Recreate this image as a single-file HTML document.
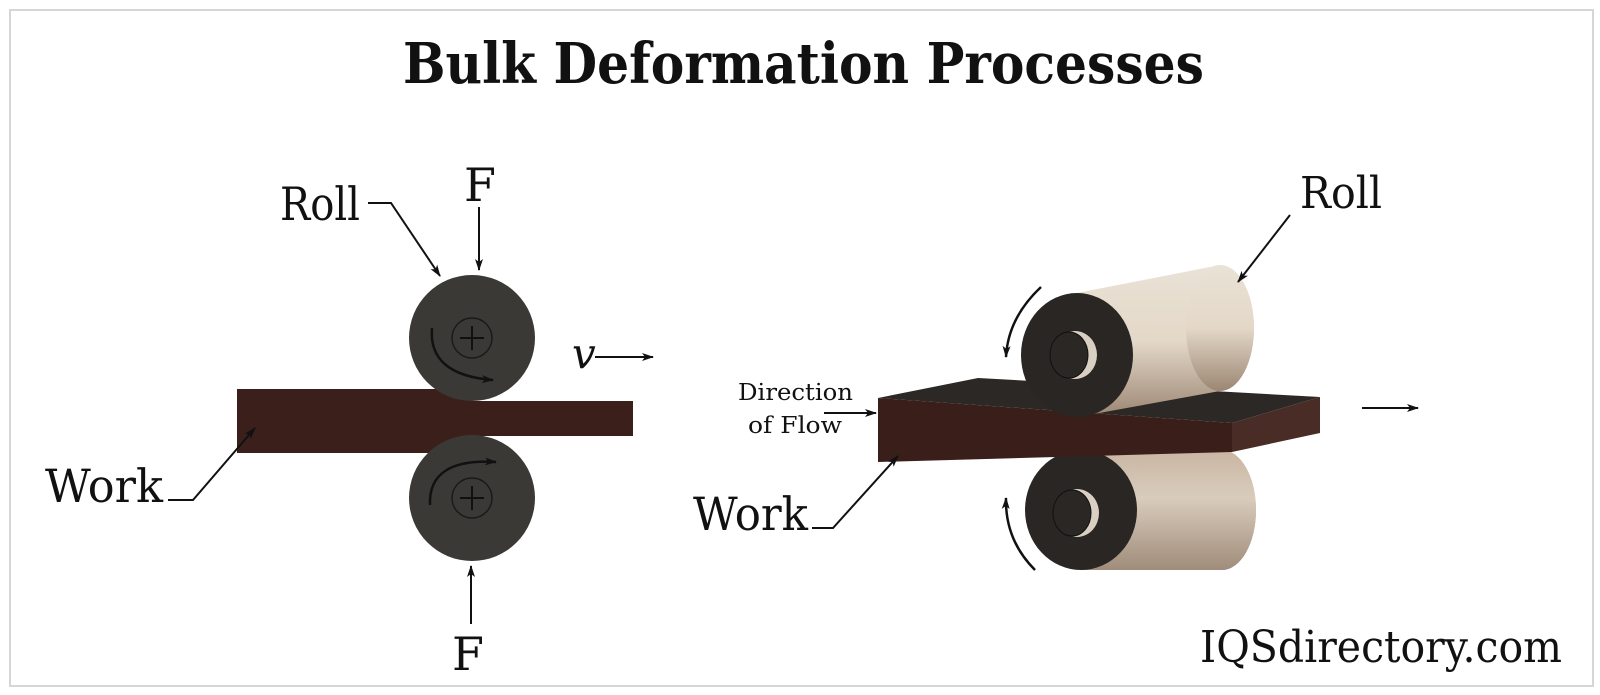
<!DOCTYPE html>
<html><head><meta charset="utf-8"><style>
html,body{margin:0;padding:0;background:#fff}
svg{display:block}
text{font-family:"DejaVu Serif","Liberation Serif",serif;fill:#111}
</style></head><body>
<svg width="1600" height="695" viewBox="0 0 1600 695" xmlns="http://www.w3.org/2000/svg">
<defs>
<marker id="ah" markerWidth="12" markerHeight="8" refX="11" refY="4" orient="auto" markerUnits="userSpaceOnUse">
<path d="M0,0 L12,4 L0,8 L3,4 z" fill="#111"/></marker>
<linearGradient id="cyl" x1="0" y1="0" x2="0" y2="1">
<stop offset="0" stop-color="#e9e2d6"/><stop offset="0.5" stop-color="#e4d8c8"/><stop offset="1" stop-color="#9c8673"/></linearGradient>
<linearGradient id="cyl2" x1="0" y1="0" x2="0" y2="1">
<stop offset="0" stop-color="#c9b5a2"/><stop offset="0.4" stop-color="#d9ccbc"/><stop offset="1" stop-color="#a08c7a"/></linearGradient>
</defs>
<rect x="10" y="10" width="1583" height="676" fill="#fff" stroke="#d6d6d6" stroke-width="2"/>
<text x="403" y="83" font-size="56" font-weight="bold" textLength="801" lengthAdjust="spacingAndGlyphs">Bulk Deformation Processes</text>

<!-- LEFT DIAGRAM -->
<rect x="237" y="389" width="235" height="64" fill="#3a1f1b"/>
<rect x="450" y="401" width="183" height="35" fill="#3a1f1b"/>
<circle cx="472" cy="338" r="63" fill="#3b3936"/>
<circle cx="472" cy="498" r="63" fill="#3b3936"/>
<circle cx="472" cy="338" r="20" fill="#3b3936" stroke="#1a1a1a" stroke-width="1.5"/>
<circle cx="472" cy="498" r="20" fill="#3b3936" stroke="#1a1a1a" stroke-width="1.5"/>
<path d="M460,338 h24 M472,326 v24 M460,498 h24 M472,486 v24" stroke="#111" stroke-width="2"/>
<path d="M432,328 Q428,375 493,380" fill="none" stroke="#111" stroke-width="2.5" marker-end="url(#ah)"/>
<path d="M430,505 Q428,458 496,462" fill="none" stroke="#111" stroke-width="2.5" marker-end="url(#ah)"/>

<text x="280" y="220" font-size="46" textLength="80" lengthAdjust="spacingAndGlyphs">Roll</text>
<path d="M368,203 H391 L440,276" fill="none" stroke="#111" stroke-width="2" marker-end="url(#ah)"/>
<text x="464" y="201" font-size="46">F</text>
<line x1="479" y1="207" x2="479" y2="270" stroke="#111" stroke-width="2" marker-end="url(#ah)"/>
<text x="572" y="368" font-size="42" font-style="italic">v</text>
<line x1="595" y1="357" x2="653" y2="357" stroke="#111" stroke-width="2" marker-end="url(#ah)"/>
<text x="45" y="502" font-size="46" textLength="118" lengthAdjust="spacingAndGlyphs">Work</text>
<path d="M168,500 H193 L255,428" fill="none" stroke="#111" stroke-width="2" marker-end="url(#ah)"/>
<line x1="471" y1="624" x2="471" y2="566" stroke="#111" stroke-width="2" marker-end="url(#ah)"/>
<text x="452" y="670" font-size="46">F</text>

<!-- RIGHT DIAGRAM -->
<!-- bottom roll -->
<path d="M1081,450 L1222,450 A34,60 0 0 1 1222,570 L1081,570 Z" fill="url(#cyl2)"/>
<ellipse cx="1222" cy="510" rx="34" ry="60" fill="url(#cyl2)"/>
<ellipse cx="1081" cy="510" rx="56" ry="60" fill="#292624"/>
<ellipse cx="1077" cy="513" rx="22" ry="24" fill="#d9cfc2"/>
<ellipse cx="1072" cy="513" rx="19" ry="23" fill="#2a2725" stroke="#111" stroke-width="1"/>
<!-- work -->
<polygon points="878,398 978,378 1320,397 1232,423" fill="#2c2826"/>
<polygon points="878,398 1232,423 1232,452 878,462" fill="#3a1e1a"/>
<polygon points="1232,423 1320,397 1320,433 1232,452" fill="#4a2c27"/>
<!-- top roll -->
<path d="M1077,293 L1220,265 A34,63 0 0 1 1220,391 L1077,417 Z" fill="url(#cyl)"/>
<ellipse cx="1220" cy="328" rx="34" ry="63" fill="url(#cyl)"/>
<ellipse cx="1077" cy="355" rx="56" ry="62" fill="#292624"/>
<ellipse cx="1075" cy="355" rx="22" ry="24" fill="#d9cfc2"/>
<ellipse cx="1069" cy="355" rx="19" ry="23" fill="#2a2725" stroke="#111" stroke-width="1"/>
<!-- rotation arrows -->
<path d="M1041,287 Q1008,318 1006,357" fill="none" stroke="#111" stroke-width="2.5" marker-end="url(#ah)"/>
<path d="M1035,570 Q1005,540 1006,498" fill="none" stroke="#111" stroke-width="2.5" marker-end="url(#ah)"/>

<text x="1300" y="208" font-size="44" textLength="82" lengthAdjust="spacingAndGlyphs">Roll</text>
<line x1="1290" y1="215" x2="1238" y2="282" stroke="#111" stroke-width="2" marker-end="url(#ah)"/>
<text x="738" y="400" font-size="23" textLength="115" lengthAdjust="spacingAndGlyphs">Direction</text>
<text x="748" y="433" font-size="23" textLength="94" lengthAdjust="spacingAndGlyphs">of Flow</text>
<line x1="824" y1="413" x2="876" y2="413" stroke="#111" stroke-width="2" marker-end="url(#ah)"/>
<text x="693" y="530" font-size="46" textLength="115" lengthAdjust="spacingAndGlyphs">Work</text>
<path d="M812,528 H833 L898,456" fill="none" stroke="#111" stroke-width="2" marker-end="url(#ah)"/>
<line x1="1362" y1="408" x2="1418" y2="408" stroke="#111" stroke-width="2" marker-end="url(#ah)"/>

<text x="1200" y="662" font-size="44" textLength="362" lengthAdjust="spacingAndGlyphs">IQSdirectory.com</text>
</svg>
</body></html>
